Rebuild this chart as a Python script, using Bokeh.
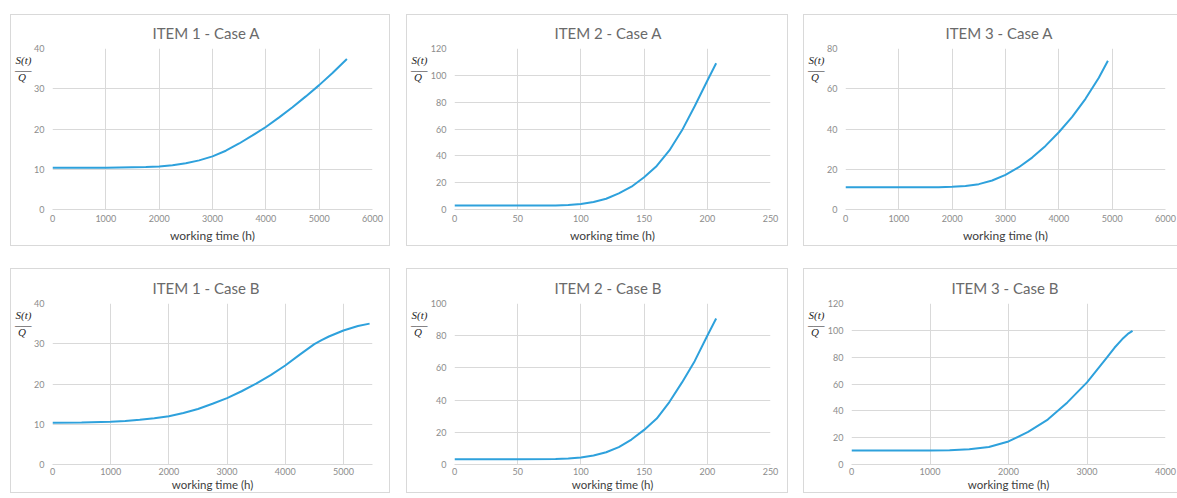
from bokeh.plotting import figure
from bokeh.layouts import row, column
from bokeh.models import FixedTicker, LinearAxis, Range1d
from bokeh.embed import file_html
from bokeh.resources import INLINE

# ---------------- data ----------------
titles = ["ITEM 1 - Case A", "ITEM 2 - Case A", "ITEM 3 - Case A",
          "ITEM 1 - Case B", "ITEM 2 - Case B", "ITEM 3 - Case B"]
x_label = "working time (h)"
frac_texts = ["S(t)", "___", "Q\u00a0\u00a0"]

item1_a_t = [0, 500, 1000, 1500, 1750, 2000, 2250, 2500, 2750, 3000, 3250, 3500, 3750, 4000, 4250, 4500, 4750, 5000, 5250, 5520]
item1_a_s = [10.4, 10.4, 10.4, 10.5, 10.55, 10.7, 11.0, 11.5, 12.2, 13.2, 14.6, 16.4, 18.4, 20.5, 22.9, 25.4, 28.1, 30.9, 33.9, 37.4]

item2_a_t = [0, 50, 80, 90, 100, 110, 120, 130, 140, 150, 160, 170, 180, 190, 200, 207]
item2_a_s = [3.0, 3.0, 3.05, 3.3, 4.1, 5.6, 8.0, 12.0, 17.0, 24.0, 32.5, 44.0, 59.0, 77.0, 96.0, 109.0]

item3_a_t = [0, 500, 1000, 1500, 1750, 2000, 2250, 2500, 2750, 3000, 3250, 3500, 3750, 4000, 4250, 4500, 4750, 4920]
item3_a_s = [11.0, 11.0, 11.0, 11.05, 11.1, 11.3, 11.7, 12.6, 14.4, 17.2, 21.0, 25.8, 31.6, 38.4, 46.0, 55.0, 65.5, 73.9]

item1_b_t = [0, 500, 1000, 1250, 1500, 1750, 2000, 2250, 2500, 2750, 3000, 3250, 3500, 3750, 4000, 4250, 4500, 4625, 4750, 5000, 5250, 5450]
item1_b_s = [10.4, 10.45, 10.6, 10.8, 11.1, 11.5, 12.0, 12.8, 13.8, 15.1, 16.5, 18.2, 20.1, 22.2, 24.6, 27.3, 29.9, 30.9, 31.8, 33.3, 34.4, 35.0]

item2_b_t = [0, 50, 80, 90, 100, 110, 120, 130, 140, 150, 160, 170, 180, 190, 200, 207]
item2_b_s = [3.3, 3.3, 3.4, 3.7, 4.3, 5.6, 7.6, 10.8, 15.5, 21.5, 28.5, 38.8, 51.0, 64.2, 80.0, 90.7]

item3_b_t = [0, 500, 1000, 1250, 1500, 1750, 2000, 2250, 2500, 2750, 3000, 3250, 3350, 3450, 3520, 3580]
item3_b_s = [10.5, 10.5, 10.5, 10.7, 11.3, 13.0, 17.2, 24.3, 33.5, 46.3, 61.2, 79.5, 87.0, 93.5, 97.3, 99.6]

x_ticks_6000 = [0, 1000, 2000, 3000, 4000, 5000, 6000]
x_ticks_5000 = [0, 1000, 2000, 3000, 4000, 5000]
x_ticks_4000 = [0, 1000, 2000, 3000, 4000]
x_ticks_250 = [0, 50, 100, 150, 200, 250]
y_ticks_40 = [0, 10, 20, 30, 40]
y_ticks_80 = [0, 20, 40, 60, 80]
y_ticks_100 = [0, 20, 40, 60, 80, 100]
y_ticks_120 = [0, 20, 40, 60, 80, 100, 120]

# ---------------- styling ----------------
LINE = "#2ea1dc"
GRID = "#d9d9d9"
FONT = "Lato"
FRAC_POS = [0.928, 0.893, 0.826]   # fraction of the value-axis height


def no_ticks(ax):
    ax.major_tick_line_color = None
    ax.minor_tick_line_color = None
    ax.major_tick_out = 0
    ax.major_tick_in = 0
    ax.minor_tick_out = 0
    ax.minor_tick_in = 0


def panel(title, t, s, x_ticks, x_end, y_ticks, width, height,
          b_left, b_right, b_top, b_bottom, margin, lab_standoff, axl_standoff, axl_size):
    p = figure(width=width, height=height, output_backend="svg",
               toolbar_location=None, tools="",
               x_range=Range1d(0, x_end), y_range=Range1d(0, y_ticks[-1]),
               min_border_left=b_left, min_border_right=b_right,
               min_border_top=b_top, min_border_bottom=b_bottom,
               margin=margin)
    p.styles = {"border": "1px solid #d9d9d9"}
    p.outline_line_color = None
    p.background_fill_color = "white"
    p.border_fill_color = "white"

    p.title.text = title
    p.title.align = "left"
    p.title.offset = 100
    p.title.standoff = 13
    p.title.text_font = FONT
    p.title.text_font_style = "normal"
    p.title.text_font_size = "15px"
    p.title.text_color = "#6a6a6a"

    p.xaxis.ticker = FixedTicker(ticks=x_ticks)
    p.yaxis.ticker = FixedTicker(ticks=y_ticks)
    for ax in (p.xaxis, p.yaxis):
        no_ticks(ax)
        ax.major_label_text_font = FONT
        ax.major_label_text_font_size = "9px"
        ax.major_label_text_color = "#8c8c8c"
    p.yaxis.axis_line_color = None
    p.yaxis.major_label_standoff = 8
    p.xaxis.axis_line_color = GRID
    p.xaxis.major_label_standoff = lab_standoff
    p.xaxis.axis_label = x_label
    p.xaxis.axis_label_standoff = axl_standoff
    p.xaxis.axis_label_text_font = FONT
    p.xaxis.axis_label_text_font_style = "normal"
    p.xaxis.axis_label_text_font_size = axl_size
    p.xaxis.axis_label_text_color = "#404040"

    p.xgrid.grid_line_color = GRID
    p.ygrid.grid_line_color = GRID

    p.line(t, s, line_color=LINE, line_width=2)

    # S(t)/Q fraction: an extra, line-less value axis left of the main one
    ytop = y_ticks[-1]
    fticks = [round(ytop * f, 3) for f in FRAC_POS]
    frac = LinearAxis(ticker=FixedTicker(ticks=fticks),
                      major_label_overrides=dict(zip(fticks, frac_texts)))
    no_ticks(frac)
    frac.axis_line_color = None
    frac.major_label_standoff = 0
    frac.major_label_text_font = "Liberation Serif"
    frac.major_label_text_font_style = "italic"
    frac.major_label_text_font_size = "11px"
    frac.major_label_text_color = "#262626"
    p.add_layout(frac, "left")
    return p


p1 = panel(titles[0], item1_a_t, item1_a_s, x_ticks_6000, 6000, y_ticks_40,
           380, 232, 41, 19, 33, 38, (14, 0, 0, 10), 5, 3, "12px")
p2 = panel(titles[1], item2_a_t, item2_a_s, x_ticks_250, 250, y_ticks_120,
           382, 232, 42, 19, 33, 38, (14, 0, 0, 16), 5, 3, "12px")
p3 = panel(titles[2], item3_a_t, item3_a_s, x_ticks_6000, 6000, y_ticks_80,
           382, 232, 41, 21, 33, 38, (14, 0, 0, 15), 5, 3, "12px")
p4 = panel(titles[3], item1_b_t, item1_b_s, x_ticks_5000, 5500, y_ticks_40,
           380, 225, 41, 19, 32, 30, (22, 0, 0, 10), 3, 0, "11.5px")
p5 = panel(titles[4], item2_b_t, item2_b_s, x_ticks_250, 250, y_ticks_100,
           382, 225, 42, 19, 34, 30, (22, 0, 0, 16), 3, 0, "11.5px")
p6 = panel(titles[5], item3_b_t, item3_b_s, x_ticks_4000, 4000, y_ticks_120,
           382, 225, 41, 21, 32, 30, (22, 0, 0, 15), 3, 0, "11.5px")

layout = column(row(p1, p2, p3), row(p4, p5, p6),
                width=1177, height=497, styles={"overflow": "hidden"})

open("out.html", "w").write(file_html(layout, INLINE))
